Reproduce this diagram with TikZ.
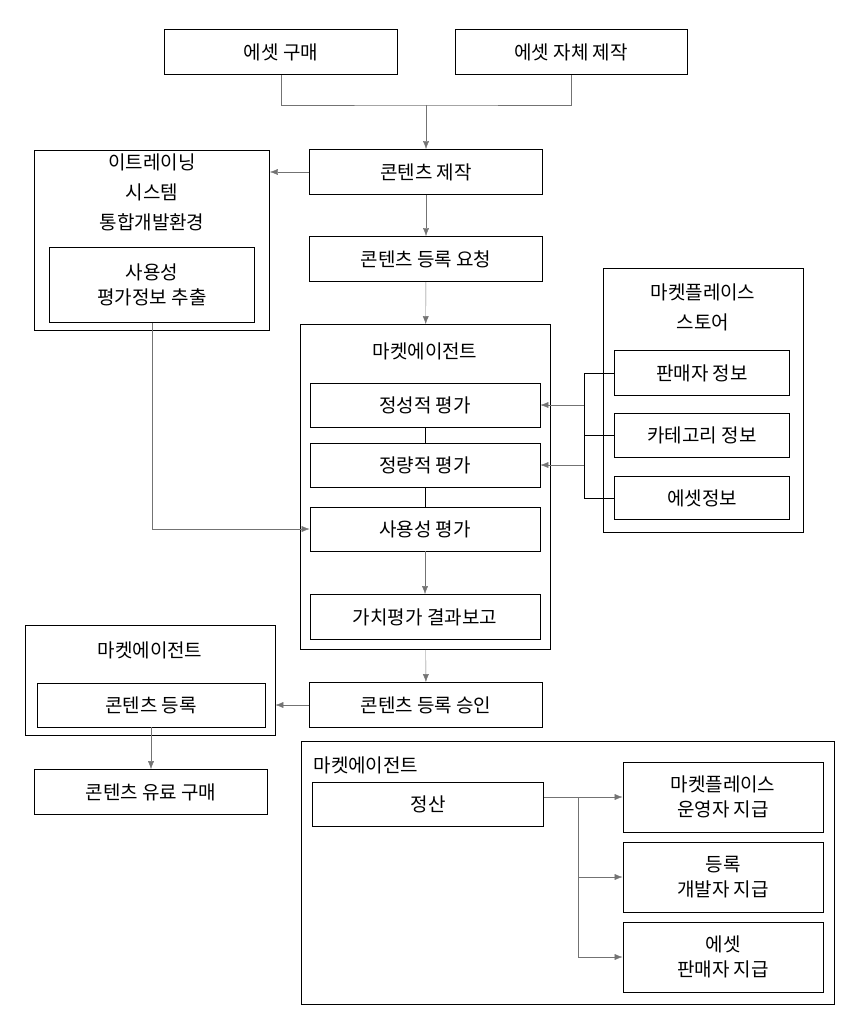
\documentclass[tikz,border=0pt]{standalone}
\usepackage{fontspec}
\setmainfont{Noto Sans CJK KR}
\usetikzlibrary{arrows.meta}
\begin{document}
\begin{tikzpicture}[x=1pt, y=-1pt,
    box/.style={draw, thick, inner sep=0pt, align=center, font=\fontsize{19}{25}\selectfont},
    link/.style={draw=black!55, -{Latex[length=8pt, width=6pt]}, black!55},
    wire/.style={draw=black!55},
    bus/.style={draw, thick}]
    \useasboundingbox (0,0) rectangle (848,1024);
    % top row
    \node[box, minimum width=233, minimum height=45] (buy) at (281,52) {에셋 구매};
    \node[box, minimum width=232, minimum height=45] (make) at (571,52) {에셋 자체 제작};
    \node[box, minimum width=233, minimum height=45] (prod) at (426,172) {콘텐츠 제작};
    \coordinate (join) at (426,105);
    \draw[wire] (buy.south) |- (join) -| (make.south);
    \draw[link] (join) -- (prod);

    % e-training
    \node[box, minimum width=235, minimum height=180] (ide) at (152,240) {};
    \node[font=\fontsize{19}{30}\selectfont, align=center, anchor=north] at (152,150) {이트레이닝\\시스템\\통합개발환경};
    \node[box, minimum width=205, minimum height=75] (usex) at (152,285) {사용성\\평가정보 추출};
    \draw[link] (prod.west) -- (prod.west -| ide.east);

    \node[box, minimum width=233, minimum height=45] (req) at (426,259) {콘텐츠 등록 요청};
    \draw[link] (prod) -- (req);

    % market agent
    \node[box, minimum width=250, minimum height=325] (agent) at (425,487) {};
    \node[font=\fontsize{19}{25}\selectfont] at (425,351) {마켓에이전트};
    \node[box, minimum width=230, minimum height=44] (qual) at (425,405) {정성적 평가};
    \node[box, minimum width=230, minimum height=44] (quant) at (425,465) {정량적 평가};
    \node[box, minimum width=230, minimum height=44] (use) at (425,529) {사용성 평가};
    \node[box, minimum width=230, minimum height=45] (report) at (425,617) {가치평가 결과보고};
    \draw[link] (req) -- (agent);
    \draw[bus] (qual) -- (quant);
    \draw[bus] (quant) -- (use);
    \draw[link] (use) -- (report);
    \draw[link] (usex.south) |- (use.west);

    % store
    \node[box, minimum width=200, minimum height=264] (store) at (703,400) {};
    \node[font=\fontsize{19}{30}\selectfont, align=center, anchor=north] at (703,280) {마켓플레이스\\스토어};
    \node[box, minimum width=175, minimum height=45] (seller) at (702,373) {판매자 정보};
    \node[box, minimum width=175, minimum height=44] (cat) at (702,435) {카테고리 정보};
    \node[box, minimum width=175, minimum height=43] (asset) at (702,498) {에셋정보};
    \coordinate (bt) at (584,373);
    \coordinate (bb) at (584,498);
    \draw[bus] (seller.west) -- (bt) -- (bb) -- (asset.west);
    \draw[bus] (cat.west) -- (cat.west -| bt);
    \draw[link] (qual.east -| bt) -- (qual.east);
    \draw[link] (quant.east -| bt) -- (quant.east);

    % approval
    \node[box, minimum width=233, minimum height=45] (ok) at (426,705) {콘텐츠 등록 승인};
    \draw[link] (agent) -- (ok);
    \node[box, minimum width=250, minimum height=110] (agent2) at (150,680) {};
    \node[font=\fontsize{19}{25}\selectfont] at (150,650) {마켓에이전트};
    \node[box, minimum width=228, minimum height=44] (reg) at (151,705) {콘텐츠 등록};
    \draw[link] (ok.west) -- (ok.west -| agent2.east);
    \node[box, minimum width=233, minimum height=45] (paid) at (151,792) {콘텐츠 유료 구매};
    \draw[link] (reg) -- (paid);

    % settlement
    \node[box, minimum width=533, minimum height=263] (agent3) at (568,873) {};
    \node[font=\fontsize{19}{25}\selectfont, anchor=west] at (310,765) {마켓에이전트};
    \node[box, minimum width=231, minimum height=44] (calc) at (428,804) {정산};
    \node[box, minimum width=200, minimum height=70] (op) at (723,797) {마켓플레이스\\운영자 지급};
    \node[box, minimum width=200, minimum height=70] (dev) at (723,877) {등록\\개발자 지급};
    \node[box, minimum width=200, minimum height=70] (sell) at (723,957) {에셋\\판매자 지급};
    \coordinate (split) at (578,797);
    \draw[wire] (calc.east |- split) -- (split);
    \draw[link] (split) -- (op.west);
    \draw[link] (split) |- (dev.west);
    \draw[link] (split) |- (sell.west);
\end{tikzpicture}
\end{document}
